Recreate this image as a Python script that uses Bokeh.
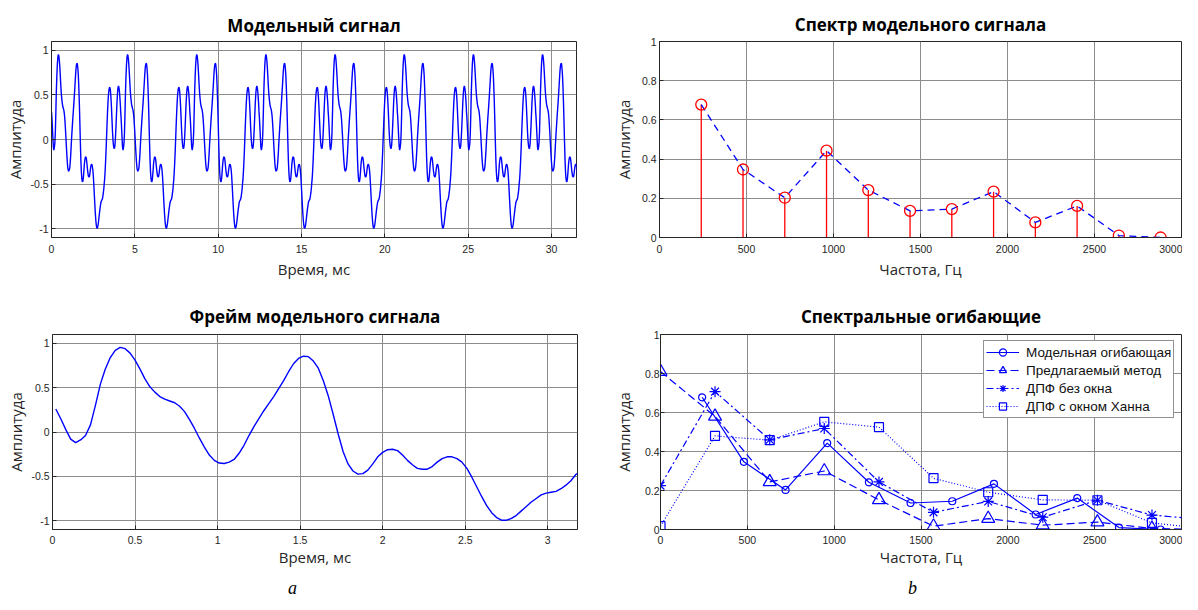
from bokeh.plotting import figure
from bokeh.layouts import column, row
from bokeh.models import FixedTicker, Range1d, Legend, LegendItem
from bokeh.core.properties import value
from bokeh.embed import file_html
from bokeh.resources import INLINE

# ---------------- data ----------------
# one frame of the model signal, time in ms, amplitude
signal_start_v = 0.31
frame_t = [0.02, 0.05, 0.08, 0.11, 0.14, 0.17, 0.20, 0.23, 0.26, 0.29,
           0.32, 0.35, 0.38, 0.41, 0.44, 0.47, 0.50, 0.53, 0.56, 0.59,
           0.62, 0.65, 0.68, 0.71, 0.74, 0.77, 0.80, 0.83, 0.86, 0.89,
           0.92, 0.95, 0.98, 1.01, 1.04, 1.07, 1.10, 1.13, 1.16, 1.19,
           1.22, 1.25, 1.28, 1.31, 1.34, 1.37, 1.40, 1.43, 1.46, 1.49,
           1.52, 1.55, 1.58, 1.61, 1.64, 1.67, 1.70, 1.73, 1.76, 1.79,
           1.82, 1.85, 1.88, 1.91, 1.94, 1.97, 2.00, 2.03, 2.06, 2.09,
           2.12, 2.15, 2.18, 2.21, 2.24, 2.27, 2.30, 2.33, 2.36, 2.39,
           2.42, 2.45, 2.48, 2.51, 2.54, 2.57, 2.60, 2.63, 2.66, 2.69,
           2.72, 2.75, 2.78, 2.81, 2.84, 2.87, 2.90, 2.93, 2.96, 2.99,
           3.02, 3.05, 3.08, 3.11, 3.14, 3.17, 3.18]
frame_v = [0.26, 0.15, 0.03, -0.08, -0.12, -0.09, -0.04, 0.08, 0.30, 0.54,
           0.71, 0.84, 0.92, 0.955, 0.94, 0.89, 0.81, 0.71, 0.60, 0.51,
           0.45, 0.40, 0.37, 0.35, 0.33, 0.29, 0.23, 0.14, 0.04, -0.07,
           -0.17, -0.26, -0.32, -0.35, -0.355, -0.34, -0.31, -0.24, -0.15, -0.04,
           0.06, 0.15, 0.24, 0.32, 0.40, 0.49, 0.58, 0.68, 0.77, 0.83,
           0.855, 0.85, 0.80, 0.72, 0.58, 0.41, 0.20, -0.02, -0.22, -0.36,
           -0.44, -0.475, -0.47, -0.43, -0.36, -0.28, -0.23, -0.20, -0.195, -0.21,
           -0.26, -0.32, -0.37, -0.41, -0.42, -0.42, -0.39, -0.34, -0.30, -0.28,
           -0.28, -0.30, -0.34, -0.41, -0.51, -0.62, -0.73, -0.83, -0.91, -0.965,
           -0.995, -0.995, -0.975, -0.94, -0.89, -0.84, -0.79, -0.75, -0.71, -0.69,
           -0.68, -0.67, -0.64, -0.60, -0.55, -0.48, -0.465]
# rest of one period (read from the long signal)
tail_t = [3.21, 3.24, 3.27, 3.30, 3.33, 3.36, 3.39, 3.42, 3.45, 3.48,
          3.51, 3.54, 3.57, 3.60, 3.63, 3.66, 3.69, 3.72, 3.75, 3.78,
          3.81, 3.84, 3.87, 3.90, 3.93, 3.96, 3.99, 4.02, 4.05, 4.08,
          4.11, 4.14]
tail_v = [-0.38, -0.27, -0.14, 0.01, 0.16, 0.30, 0.42, 0.51, 0.56, 0.585,
          0.58, 0.54, 0.46, 0.35, 0.22, 0.09, -0.01, -0.07, -0.10, -0.10,
          -0.06, 0.03, 0.15, 0.29, 0.42, 0.52, 0.58, 0.60, 0.58, 0.53,
          0.45, 0.36]
signal_period_ms = 4.15
signal_periods = 8

# harmonic spectrum of the model signal
harm_freq = [240, 480, 720, 960, 1200, 1440, 1680, 1920, 2160, 2400, 2640, 2880]
harm_amp = [0.678, 0.347, 0.203, 0.443, 0.242, 0.136, 0.145, 0.234, 0.077, 0.161, 0.010, 0.0]

# frame DFT bins and envelopes
bin_freq = [0, 314, 629, 943, 1258, 1572, 1887, 2201, 2516, 2830, 3145]
proposed_amp = [0.81, 0.58, 0.244, 0.30, 0.152, 0.017, 0.056, 0.022, 0.038, 0.005, 0.0]
dft_rect_amp = [0.225, 0.707, 0.46, 0.518, 0.244, 0.088, 0.144, 0.063, 0.15, 0.074, 0.05]
dft_hann_amp = [0.017, 0.48, 0.458, 0.552, 0.525, 0.263, 0.191, 0.152, 0.15, 0.034, 0.003]

time_ticks = [0, 5, 10, 15, 20, 25, 30]
frame_ticks = [0, 0.5, 1, 1.5, 2, 2.5, 3]
freq_ticks = [0, 500, 1000, 1500, 2000, 2500, 3000]
sig_yticks = [-1, -0.5, 0, 0.5, 1]
spec_yticks = [0, 0.2, 0.4, 0.6, 0.8, 1]

# ---------------- helpers ----------------
DARK = "#262626"
GRID = "#8c8c8c"
BLUE = "#0000ff"
RED = "#ff0000"


def fmt(v):
    return "%g" % v


def panel(title, w, h, xr, yr, bl, br, bt, bb, xticks, yticks, xlabel,
          title_standoff=10, ytick_standoff=3, ylabel_standoff=2,
          xtick_standoff=7, xlabel_standoff=3):
    p = figure(width=w, height=h, x_range=Range1d(*xr), y_range=Range1d(*yr),
               output_backend="svg", toolbar_location=None,
               min_border_left=bl, min_border_right=br,
               min_border_top=bt, min_border_bottom=bb, title=title)
    p.title.align = "center"
    p.title.text_font = "Open Sans"
    p.title.text_font_size = "17px"
    p.title.text_font_style = "bold"
    p.title.text_color = "black"
    p.title.standoff = title_standoff
    p.background_fill_color = "white"
    p.border_fill_color = "white"
    p.outline_line_color = DARK
    p.outline_line_width = 1

    p.xaxis.ticker = FixedTicker(ticks=xticks)
    p.xaxis.major_label_overrides = {t: fmt(t) for t in xticks}
    p.yaxis.ticker = FixedTicker(ticks=yticks)
    p.yaxis.major_label_overrides = {t: fmt(t) for t in yticks}
    for ax in (p.xaxis[0], p.yaxis[0]):
        ax.major_tick_in = 4
        ax.major_tick_out = 0
        ax.minor_tick_line_color = None
        ax.major_tick_line_color = DARK
        ax.axis_line_color = DARK
        ax.major_label_text_font = "Liberation Sans"
        ax.major_label_text_font_size = "10.5px"
        ax.major_label_text_color = DARK
        ax.axis_label_text_font = "Open Sans"
        ax.axis_label_text_font_size = "15px"
        ax.axis_label_text_font_style = "normal"
        ax.axis_label_text_color = DARK
    p.xaxis.axis_label = xlabel
    p.yaxis.axis_label = "Амплитуда"
    p.xaxis.major_label_standoff = xtick_standoff
    p.xaxis.axis_label_standoff = xlabel_standoff
    p.yaxis.major_label_standoff = ytick_standoff
    p.yaxis.axis_label_standoff = ylabel_standoff
    p.grid.grid_line_color = GRID
    p.grid.grid_line_width = 1
    return p


# ---------------- top-left: model signal ----------------
period_t = [0.0] + frame_t + tail_t
period_v = [signal_start_v] + frame_v + tail_v
sig_t = [t + k * signal_period_ms for k in range(signal_periods) for t in period_t]
sig_v = period_v * signal_periods

tl = panel("Модельный сигнал", 606, 285, (0, 31.5), (-1.1, 1.1), 51, 30, 41, 48,
           time_ticks, sig_yticks, "Время, мс", title_standoff=10)
tl.line(sig_t, sig_v, line_color=BLUE, line_width=1.4)

# ---------------- bottom-left: frame ----------------
bl = panel("Фрейм модельного сигнала", 606, 284, (0, 3.18), (-1.1, 1.1), 52, 29, 49, 39,
           frame_ticks, sig_yticks, "Время, мс", title_standoff=13,
           xtick_standoff=6, xlabel_standoff=0)
bl.line(frame_t, frame_v, line_color=BLUE, line_width=1.4)

# ---------------- top-right: spectrum ----------------
tr = panel("Спектр модельного сигнала", 576, 285, (0, 3000), (0, 1), 53, 1, 41, 48,
           freq_ticks, spec_yticks, "Частота, Гц", title_standoff=11,
           ytick_standoff=3, ylabel_standoff=5)
tr.segment(x0=harm_freq, y0=[0] * len(harm_freq), x1=harm_freq, y1=harm_amp,
           line_color=RED, line_width=1.3)
tr.line(harm_freq, harm_amp, line_color=BLUE, line_width=1.3, line_dash="7 5")
tr.scatter(harm_freq, harm_amp, marker="circle", size=11, line_color=RED,
           fill_color=None, line_width=1.3)

# ---------------- bottom-right: envelopes ----------------
br = panel("Спектральные огибающие", 576, 284, (0, 3000), (0, 1), 54, 1, 49, 39,
           freq_ticks, spec_yticks, "Частота, Гц", title_standoff=13,
           ytick_standoff=1, ylabel_standoff=8, xtick_standoff=6, xlabel_standoff=0)
l1 = br.line(harm_freq, harm_amp, line_color=BLUE, line_width=1.2)
s1 = br.scatter(harm_freq, harm_amp, marker="circle", size=7, line_color=BLUE,
                fill_color=None, line_width=1.2)
l2 = br.line(bin_freq, proposed_amp, line_color=BLUE, line_width=1.2, line_dash="8 4")
s2 = br.scatter(bin_freq, proposed_amp, marker="triangle", size=13, line_color=BLUE,
                fill_color=None, line_width=1.2)
l3 = br.line(bin_freq, dft_rect_amp, line_color=BLUE, line_width=1.2, line_dash="7 3 2 3")
s3 = br.scatter(bin_freq, dft_rect_amp, marker="asterisk", size=11, line_color=BLUE,
                line_width=1.2)
l4 = br.line(bin_freq, dft_hann_amp, line_color=BLUE, line_width=1.2, line_dash="1 2")
s4 = br.scatter(bin_freq, dft_hann_amp, marker="square", size=9, line_color=BLUE,
                fill_color=None, line_width=1.2)

legend = Legend(items=[
    LegendItem(label="Модельная огибающая", renderers=[l1, s1]),
    LegendItem(label="Предлагаемый метод", renderers=[l2, s2]),
    LegendItem(label="ДПФ без окна", renderers=[l3, s3]),
    LegendItem(label="ДПФ с окном Ханна", renderers=[l4, s4]),
], location=(323, 111))
legend.padding = 2
legend.margin = 0
legend.spacing = 0
legend.glyph_width = 33
legend.glyph_height = 18
legend.label_height = 18
legend.label_standoff = 7
legend.label_text_font = "Liberation Sans"
legend.label_text_font_size = "13.5px"
legend.label_text_color = "#111111"
legend.border_line_color = DARK
legend.border_line_width = 1
legend.background_fill_color = "white"
legend.background_fill_alpha = 1
br.add_layout(legend)


# ---------------- captions ----------------
def caption(w, x, letter):
    c = figure(width=w, height=25, x_range=Range1d(0, w), y_range=Range1d(0, 25),
               x_axis_type=None, y_axis_type=None, output_backend="svg",
               toolbar_location=None, min_border=0, title=None)
    c.outline_line_color = None
    c.text(x=[x], y=[7], text=[letter], text_font=value("Liberation Serif"),
           text_font_style="italic", text_font_size="18px", text_align="center",
           text_baseline="alphabetic", text_color="black")
    return c


ca = caption(606, 292, "a")
cb = caption(576, 306, "b")

layout = column(row(tl, tr), row(bl, br), row(ca, cb))
open("out.html", "w").write(file_html(layout, INLINE))
